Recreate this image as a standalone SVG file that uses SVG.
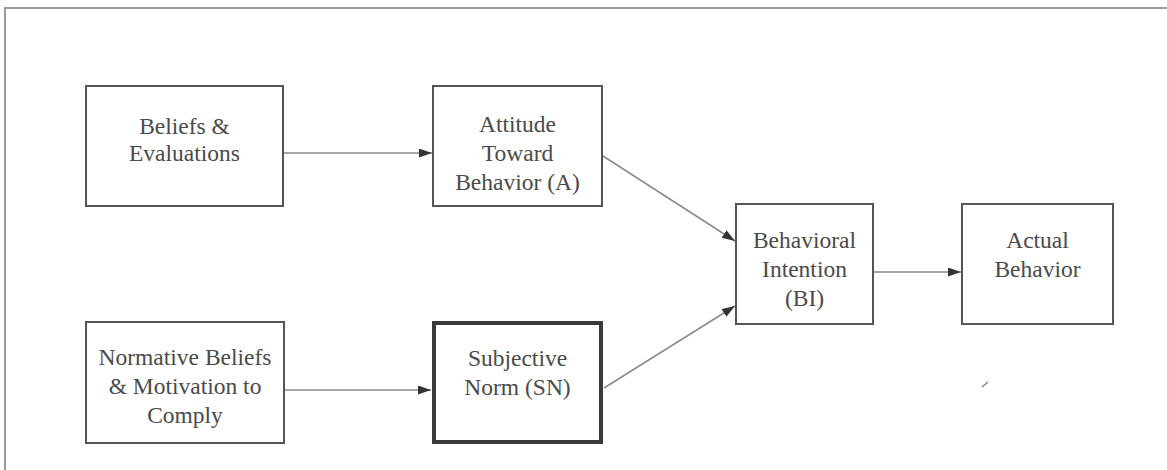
<svg xmlns="http://www.w3.org/2000/svg" width="1167" height="470" viewBox="0 0 1167 470">
<style>
.box{fill:#fff;stroke:#555;stroke-width:2}
.thick{fill:#fff;stroke:#3a3a3a;stroke-width:4}
.lbl{font-family:"Liberation Serif","Times New Roman",serif;font-size:23.5px;fill:#4a4a4a;text-anchor:middle}
.conn{stroke:#8a8a8a;stroke-width:1.5;fill:none;marker-end:url(#arr)}
.frame{stroke:#9a9a9a;stroke-width:2;fill:none}
</style>
<defs>
<marker id="arr" markerUnits="userSpaceOnUse" markerWidth="14" markerHeight="10" refX="13" refY="4.5" orient="auto">
<path d="M0,0 L13,4.5 L0,9 z" fill="#333"/>
</marker>
</defs>
<rect width="1167" height="470" fill="#fff"/>
<path class="frame" d="M5,470 L5,8 L1167,8"/>
<g id="connectors">
<line class="conn" x1="283" y1="153" x2="432" y2="153"/>
<line class="conn" x1="284" y1="390" x2="431" y2="390"/>
<line class="conn" x1="603" y1="156" x2="735" y2="241"/>
<line class="conn" x1="604" y1="388" x2="735" y2="306"/>
<line class="conn" x1="873" y1="272" x2="961" y2="272"/>
</g>
<g id="beliefs">
<rect class="box" x="86" y="86" width="197" height="120"/>
<text class="lbl" x="184.5" y="134">Beliefs &amp;</text>
<text class="lbl" x="184.5" y="161">Evaluations</text>
</g>
<g id="attitude">
<rect class="box" x="433" y="86" width="169" height="120"/>
<text class="lbl" x="517.5" y="132">Attitude</text>
<text class="lbl" x="517.5" y="161">Toward</text>
<text class="lbl" x="517.5" y="190">Behavior (A)</text>
</g>
<g id="intention">
<rect class="box" x="736" y="204" width="137" height="120"/>
<text class="lbl" x="804.5" y="248">Behavioral</text>
<text class="lbl" x="804.5" y="277">Intention</text>
<text class="lbl" x="804.5" y="306">(BI)</text>
</g>
<g id="actual">
<rect class="box" x="962" y="204" width="151" height="120"/>
<text class="lbl" x="1037.5" y="248">Actual</text>
<text class="lbl" x="1037.5" y="277">Behavior</text>
</g>
<g id="normative">
<rect class="box" x="86" y="322" width="198" height="121"/>
<text class="lbl" x="185" y="365">Normative Beliefs</text>
<text class="lbl" x="185" y="394">&amp; Motivation to</text>
<text class="lbl" x="185" y="423">Comply</text>
</g>
<g id="subjective">
<rect class="thick" x="434" y="323" width="167" height="119"/>
<text class="lbl" x="517.5" y="366">Subjective</text>
<text class="lbl" x="517.5" y="395">Norm (SN)</text>
</g>
<line x1="982" y1="387" x2="988" y2="382" stroke="#888" stroke-width="1.5"/>
</svg>
